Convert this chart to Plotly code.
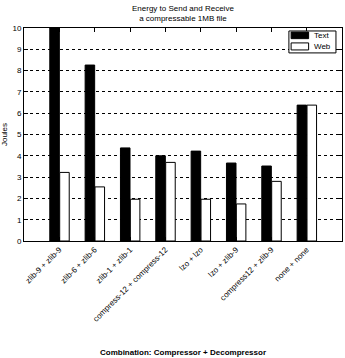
import plotly.graph_objects as go

categories = [
    "zlib-9 + zlib-9",
    "zlib-6 + zlib-6",
    "zlib-1 + zlib-1",
    "compress-12 + compress-12",
    "lzo + lzo",
    "lzo + zlib-9",
    "compress12 + zlib-9",
    "none + none",
]
text_joules = [10.0, 8.26, 4.37, 4.0, 4.22, 3.66, 3.52, 6.38]
web_joules = [3.22, 2.54, 1.96, 3.69, 1.96, 1.74, 2.8, 6.38]
y_ticks = list(range(0, 11))
series_names = ["Text", "Web"]
series_fills = ["black", "white"]

positions = list(range(1, len(categories) + 1))
bar_w = 0.27

FONT = "Liberation Sans, Arial, sans-serif"

fig = go.Figure()
fig.add_trace(go.Bar(
    name=series_names[0], x=positions, y=text_joules, width=bar_w, offset=-bar_w,
    marker=dict(color=series_fills[0], line=dict(color="black", width=1)),
    showlegend=False,
))
fig.add_trace(go.Bar(
    name=series_names[1], x=positions, y=web_joules, width=bar_w, offset=0.01,
    marker=dict(color=series_fills[1], line=dict(color="black", width=1)),
    showlegend=False,
))

# compact boxed legend in the upper-right corner of the axes
shapes = [dict(type="rect", xref="paper", yref="paper",
               x0=0.833, x1=0.981, y0=0.883, y1=0.986,
               line=dict(color="black", width=1), fillcolor="white", layer="above")]
annotations = []
swatch_rows = [(0.950, 0.981), (0.897, 0.930)]
for name, fill, (y0, y1) in zip(series_names, series_fills, swatch_rows):
    shapes.append(dict(type="rect", xref="paper", yref="paper",
                       x0=0.840, x1=0.895, y0=y0, y1=y1,
                       line=dict(color="black", width=1), fillcolor=fill, layer="above"))
    annotations.append(dict(text=name, xref="paper", yref="paper",
                            x=0.907, y=(y0 + y1) / 2, xanchor="left", yanchor="middle",
                            showarrow=False, font=dict(size=8, family=FONT, color="black")))

annotations.append(dict(
    text="Energy to Send and Receive<br>a compressable 1MB file",
    xref="paper", yref="paper", x=0.5, y=1, xanchor="center", yanchor="bottom",
    yshift=3, showarrow=False, align="center",
    font=dict(size=8, family=FONT, color="black"),
))

fig.update_layout(
    width=345, height=358,
    margin=dict(l=24, r=3, t=28, b=117),
    paper_bgcolor="white", plot_bgcolor="white",
    font=dict(family=FONT, size=8, color="black"),
    barmode="overlay",
    showlegend=False,
    shapes=shapes,
    annotations=annotations,
)

fig.update_xaxes(
    range=[0, 9], tickmode="array", tickvals=positions, ticktext=categories,
    tickangle=-45, ticks="inside", ticklen=4, tickcolor="black",
    showline=True, linecolor="black", linewidth=1, mirror="ticks",
    showgrid=False, zeroline=False,
    tickfont=dict(size=8, family=FONT, color="black"),
    title=dict(text="<b>Combination: Compressor + Decompressor</b>",
               font=dict(size=8, family=FONT, color="black"), standoff=26),
)
fig.update_yaxes(
    range=[0, 10], tickmode="array", tickvals=y_ticks,
    ticks="inside", ticklen=4, tickcolor="black",
    showline=True, linecolor="black", linewidth=1, mirror="ticks",
    showgrid=True, gridcolor="black", gridwidth=1, griddash="dot",
    zeroline=False,
    tickfont=dict(size=8, family=FONT, color="black"),
    title=dict(text="Joules", font=dict(size=8, family=FONT, color="black"), standoff=4),
)

fig.write_html("out.html")
